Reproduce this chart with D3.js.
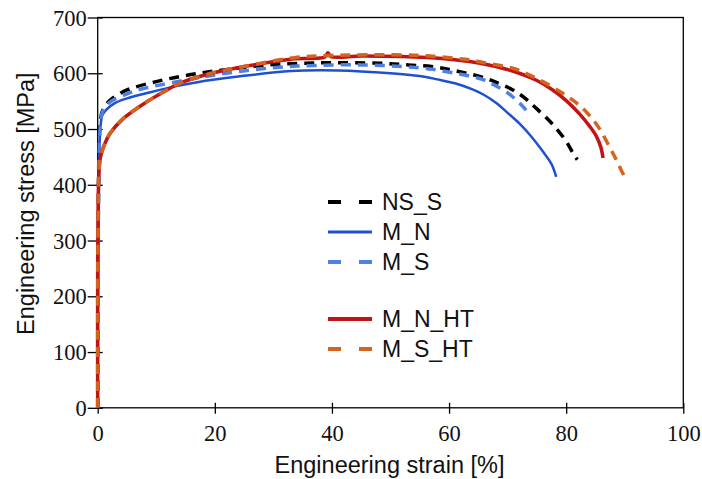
<!DOCTYPE html>
<html><head><meta charset="utf-8">
<script src="https://cdn.jsdelivr.net/npm/d3@7"></script>
<style>body{margin:0;background:#fff}svg{display:block}</style>
</head><body>
<svg id="c" width="702" height="479"></svg>
<script>
// ---- data ----
const seriesNames = ["NS_S", "M_N", "M_S", "M_N_HT", "M_S_HT"];
const nsS_strain = [0, 0.25, 0.45, 0.8, 1.5, 2.5, 5, 10, 15, 20, 29, 35, 40, 48, 53, 57, 60, 63, 66, 68, 70.9, 73, 74.9, 77, 78.3, 80, 81.1, 81.9];
const nsS_stress = [0, 480, 515, 532, 545, 555, 570, 585, 596, 604, 615, 618, 619, 618, 615, 612, 607, 600, 592, 584, 570, 555, 537, 516, 501, 478, 458, 445];
const mN_strain = [0, 0.25, 0.45, 0.8, 1.5, 3, 5, 9, 13, 17, 24, 33, 41, 50, 55, 58, 61, 64, 66, 68, 70, 72, 74, 76, 77.5, 78.3];
const mN_stress = [0, 440, 500, 525, 535, 547, 555, 566, 576, 584, 594, 604, 605, 600, 595, 589, 582, 571, 561, 547, 529, 510, 487, 460, 437, 414];
const mS_strain = [0, 0.25, 0.45, 0.8, 1.8, 5, 8, 12.6, 20, 30, 37, 45, 52, 57.2, 61, 63.5, 65.7, 67.5, 69.7, 71.5, 72.9, 73.6];
const mS_stress = [0, 460, 505, 530, 546, 563, 573, 583, 597, 610, 614, 615, 612, 607, 600, 595, 589, 580, 567, 552, 537, 527];
const mNHT_strain = [0, 0.2, 0.45, 1, 2.1, 4.4, 8.4, 11, 14, 19.4, 25, 33.6, 38.8, 39.3, 39.8, 45, 52, 57, 63.5, 68, 72, 75, 77.7, 80, 82.2, 84, 85.1, 85.9, 86.3];
const mNHT_stress = [0, 420, 448, 468, 492, 519, 549, 565, 582, 600, 612, 626, 629, 637, 630, 631, 630, 628, 621, 612, 600, 587, 570, 551, 528, 505, 488, 468, 448];
const mSHT_strain = [0, 0.2, 0.45, 1, 2.1, 4.4, 8.4, 11, 14, 19.4, 25, 33.6, 40, 47, 55, 61, 63.5, 66, 70.9, 73.5, 76, 79.4, 82.2, 84, 85.6, 87.3, 88.5, 89.6, 90.2];
const mSHT_stress = [0, 420, 448, 468, 492, 519, 549, 565, 582, 600, 612, 628, 632, 633, 632, 627, 624, 619, 609, 598, 585, 564, 543, 524, 502, 470, 446, 422, 410];
const xTicks = [0, 20, 40, 60, 80, 100];
const yTicks = [0, 100, 200, 300, 400, 500, 600, 700];
const xTitle = "Engineering strain [%]";
const yTitle = "Engineering stress [MPa]";

// ---- styles ----
const styles = {
  "NS_S":   {color: "#000000", width: 3.5, dash: "10,7",  legendDash: "13,18"},
  "M_N":    {color: "#1f50d2", width: 2.5, dash: null,    legendDash: null},
  "M_S":    {color: "#4f80e4", width: 3.5, dash: "10,7",  legendDash: "13,18"},
  "M_N_HT": {color: "#c21414", width: 3.5, dash: null,    legendDash: null},
  "M_S_HT": {color: "#d4631e", width: 3.5, dash: "10,7",  legendDash: "13,18"}
};
const seriesData = {
  "NS_S": [nsS_strain, nsS_stress],
  "M_N": [mN_strain, mN_stress],
  "M_S": [mS_strain, mS_stress],
  "M_N_HT": [mNHT_strain, mNHT_stress],
  "M_S_HT": [mSHT_strain, mSHT_stress]
};

const svg = d3.select("#c");
const L = 97.7, R = 683.3, T = 17.5, B = 407.8;
const x = d3.scaleLinear().domain([0, 100]).range([L, R]);
const y = d3.scaleLinear().domain([0, 700]).range([B, T]);

// frame
svg.append("rect").attr("x", L).attr("y", T).attr("width", R - L).attr("height", B - T)
  .attr("fill", "none").attr("stroke", "#000").attr("stroke-width", 1.3);

// axes
const xAxis = d3.axisBottom(x).tickValues(xTicks).tickSize(0).tickPadding(0);
const gx = svg.append("g").attr("transform", `translate(0,${B})`).call(xAxis);
gx.select(".domain").remove();
gx.selectAll(".tick line").remove();
gx.selectAll(".tick").append("line").attr("y1", -5).attr("y2", 6).attr("stroke", "#000").attr("stroke-width", 1.3);
gx.selectAll(".tick text").attr("y", 33).attr("dy", null)
  .attr("font-family", "Liberation Serif, serif").attr("font-size", 22.5).attr("fill", "#111");

const yAxis = d3.axisLeft(y).tickValues(yTicks).tickSize(0).tickPadding(0);
const gy = svg.append("g").attr("transform", `translate(${L},0)`).call(yAxis);
gy.select(".domain").remove();
gy.selectAll(".tick line").remove();
gy.selectAll(".tick").append("line").attr("x1", -10).attr("x2", 5).attr("stroke", "#000").attr("stroke-width", 1.3);
gy.selectAll(".tick text").attr("x", -11).attr("dy", "0.34em")
  .attr("font-family", "Liberation Serif, serif").attr("font-size", 22.5).attr("fill", "#111");

// titles
svg.append("text").attr("x", (L + R) / 2 - 1).attr("y", 473).attr("text-anchor", "middle")
  .attr("font-family", "Liberation Sans, Arial, sans-serif").attr("font-size", 23.5).attr("fill", "#111")
  .text(xTitle);
svg.append("text").attr("transform", `translate(34,${(T + B) / 2 - 9}) rotate(-90)`).attr("text-anchor", "middle")
  .attr("font-family", "Liberation Sans, Arial, sans-serif").attr("font-size", 23.5).attr("fill", "#111")
  .text(yTitle);

// curves
const lineGen = d3.line().x(d => x(d[0])).y(d => y(d[1])).curve(d3.curveCatmullRom.alpha(0.5));
seriesNames.forEach(name => {
  const [sx, sy] = seriesData[name];
  const pts = sx.map((v, i) => [v, sy[i]]);
  const st = styles[name];
  svg.append("path").datum(pts)
    .attr("d", lineGen)
    .attr("fill", "none").attr("stroke", st.color).attr("stroke-width", st.width)
    .attr("stroke-dasharray", st.dash).attr("stroke-linejoin", "round");
});

// legend
const legendY = {"NS_S": 202, "M_N": 232, "M_S": 262, "M_N_HT": 319, "M_S_HT": 349};
seriesNames.forEach(name => {
  const st = styles[name];
  const ly = legendY[name];
  svg.append("line").attr("x1", 328).attr("x2", 372).attr("y1", ly).attr("y2", ly)
    .attr("stroke", st.color).attr("stroke-width", st.width === 2.5 ? 3 : 4)
    .attr("stroke-dasharray", st.legendDash);
  svg.append("text").attr("x", 382).attr("y", ly + 8)
    .attr("font-family", "Liberation Sans, Arial, sans-serif").attr("font-size", 23).attr("fill", "#111")
    .text(name);
});
</script>
</body></html>
